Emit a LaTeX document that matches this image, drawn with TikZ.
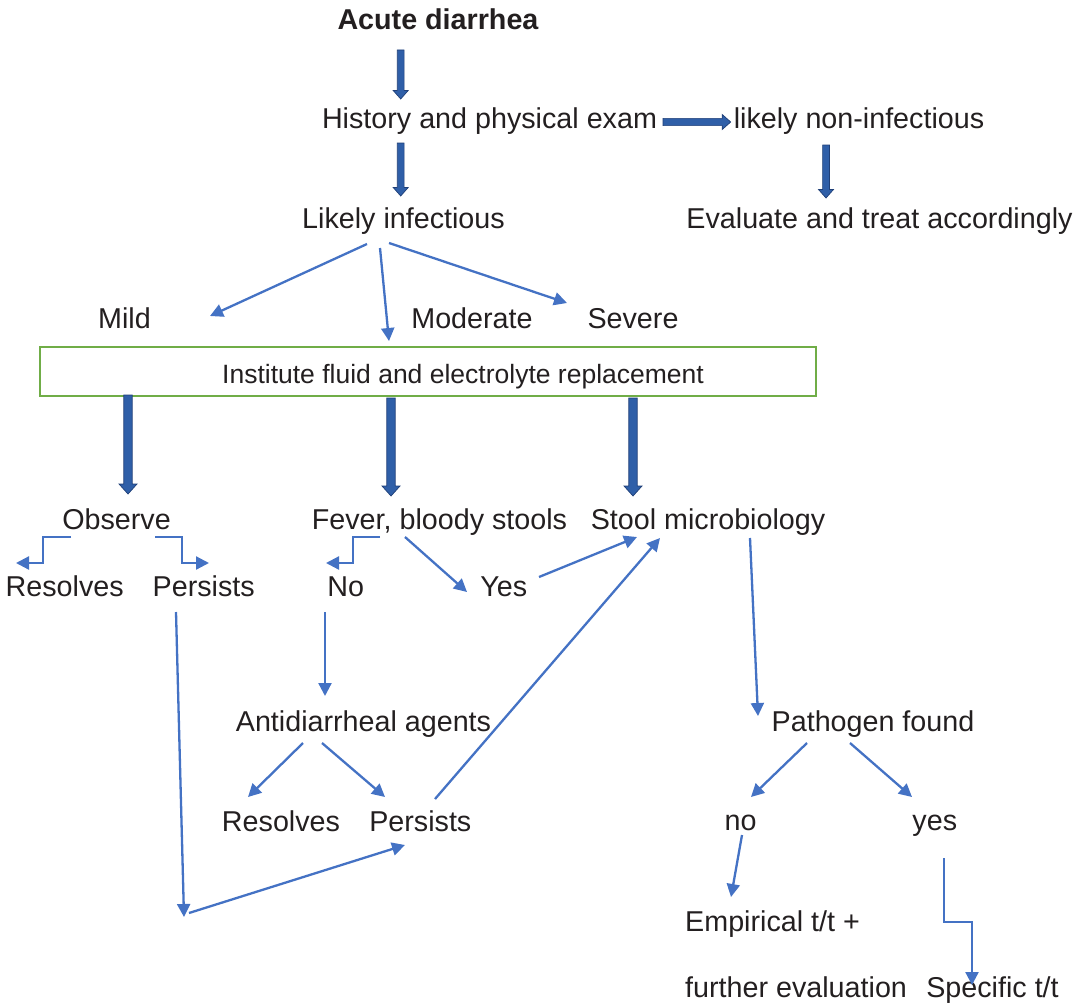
\documentclass[tikz,border=0pt]{standalone}
\usepackage{fontspec}
\setmainfont{Liberation Sans}
\usetikzlibrary{arrows.meta,calc}

\definecolor{ink}{HTML}{231F20}
\definecolor{flow}{HTML}{4472C4}
\definecolor{blockfill}{HTML}{2F5FA8}
\definecolor{blockedge}{HTML}{1F3F77}
\definecolor{boxgreen}{HTML}{70AD47}

% Filled block arrow pointing down: start, end, half shaft, half head, head length
\newcommand\downblock[5]{%
  \path[blockarrow] let \p1=#1, \p2=#2 in
    (\x1-#3pt,\y1) -- (\x1-#3pt,\y2+#5pt) -- (\x1-#4pt,\y2+#5pt) -- (\x1,\y2)
    -- (\x1+#4pt,\y2+#5pt) -- (\x1+#3pt,\y2+#5pt) -- (\x1+#3pt,\y1) -- cycle;}
% Filled block arrow pointing right
\newcommand\rightblock[5]{%
  \path[blockarrow] let \p1=#1, \p2=#2 in
    (\x1,\y1+#3pt) -- (\x2-#5pt,\y1+#3pt) -- (\x2-#5pt,\y1+#4pt) -- (\x2,\y1)
    -- (\x2-#5pt,\y1-#4pt) -- (\x2-#5pt,\y1-#3pt) -- (\x1,\y1-#3pt) -- cycle;}

\begin{document}
\begin{tikzpicture}[x=1pt,y=1pt,
  lbl/.style={font=\fontsize{28.7}{34}\selectfont, text=ink, inner sep=0pt,
              text height=20.5pt, text depth=6pt, anchor=base},
  blockarrow/.style={fill=blockfill, draw=blockedge, line width=0.7pt},
  flowline/.style={draw=flow, line width=2.3pt, -{Triangle[length=13pt,width=13pt]}},
  greenbox/.style={draw=boxgreen, line width=2pt, minimum width=776pt,
              minimum height=49pt, inner sep=0pt, text=ink,
              font=\fontsize{26.5}{30}\selectfont, text height=28pt, text depth=5pt}]

\useasboundingbox (0,0) rectangle (1083,-1006);

% ---- labels ----
\node[lbl, font=\bfseries\fontsize{28.7}{34}\selectfont] (acute) at (438,-29.5) {Acute diarrhea};
\node[lbl] (hist) at (489.5,-128.5) {History and physical exam};
\node[lbl] (noninf) at (859,-128.5) {likely non-infectious};
\node[lbl] (likinf) at (403.5,-228.5) {Likely infectious};
\node[lbl] (evalt) at (879.5,-228.5) {Evaluate and treat accordingly};
\node[lbl] (mild) at (124.5,-328.5) {Mild};
\node[lbl] (moderate) at (472,-328.5) {Moderate};
\node[lbl] (severe) at (633,-328.5) {Severe};
\node[greenbox] (box) at (428,-371.5) {\hspace*{70pt}Institute fluid and electrolyte replacement};
\node[lbl] (observe) at (116.5,-529.5) {Observe};
\node[lbl] (fever) at (439.5,-529.5) {Fever, bloody stools};
\node[lbl] (stool) at (708,-529.5) {Stool microbiology};
\node[lbl] (res1) at (64.7,-596.5) {Resolves};
\node[lbl] (pers1) at (203.7,-596.5) {Persists};
\node[lbl] (no1) at (345.7,-596.5) {No};
\node[lbl] (yes1) at (503.7,-596.5) {Yes};
\node[lbl] (anti) at (363.5,-731.5) {Antidiarrheal agents};
\node[lbl] (res2) at (281,-831.5) {Resolves};
\node[lbl] (pers2) at (420.3,-831.5) {Persists};
\node[lbl] (pathogen) at (873,-731.5) {Pathogen found};
\node[lbl] (no2) at (740.5,-830.5) {no};
\node[lbl] (yes2) at (934.8,-830.5) {yes};
\node[lbl, anchor=base west] (emp) at (685,-931.5) {Empirical t/t +};
\node[lbl, anchor=base west] (further) at (685,-997.5) {further evaluation};
\node[lbl] (spec) at (992.5,-997.5) {Specific t/t};
\coordinate (bend) at (184,-917);

% ---- block arrows ----
\downblock{([shift={(-37.3,-20.5)}]acute.base)}{([shift={(-88.8,29.5)}]hist.base)}{3.4}{7.5}{8.5}
\rightblock{([shift={(173.5,6.5)}]hist.base)}{([shift={(-128.3,6.5)}]noninf.base)}{3.6}{7.5}{8.5}
\downblock{([shift={(-88.8,-14.5)}]hist.base)}{([shift={(-2.8,32.5)}]likinf.base)}{3.4}{7.5}{8.5}
\downblock{([shift={(-33,-16.5)}]noninf.base)}{([shift={(-53.5,30.5)}]evalt.base)}{3.4}{7.5}{8.5}
\downblock{([shift={(-300,-23.5)}]box.center)}{([shift={(11.5,35.5)}]observe.base)}{4.2}{9}{10}
\downblock{([shift={(-37,-26.5)}]box.center)}{([shift={(-48.5,33.5)}]fever.base)}{4.2}{9}{10}
\downblock{([shift={(205,-26.5)}]box.center)}{([shift={(-75,33.5)}]stool.base)}{4.2}{9}{10}

% ---- thin connectors ----
\draw[flowline] ([shift={(-36.5,-15.5)}]likinf.base) -- ([shift={(85.5,12.5)}]mild.base);
\draw[flowline] ([shift={(-23.5,-19.5)}]likinf.base) -- ([shift={(-83,-12.5)}]moderate.base);
\draw[flowline] ([shift={(-14.5,-14.5)}]likinf.base) -- ([shift={(-66,25.5)}]severe.base);

\draw[flowline] ([shift={(-45.5,-7.5)}]observe.base) -- ++(-28,0) |- ([shift={(-48.7,33.5)}]res1.base);
\draw[flowline] ([shift={(38.5,-7.5)}]observe.base) -- ++(27,0) |- ([shift={(5.3,33.5)}]pers1.base);
\draw[flowline] ([shift={(-59.5,-7.5)}]fever.base) -- ++(-27,0) |- ([shift={(-19.7,33.5)}]no1.base);
\draw[flowline] ([shift={(-34.5,-7.5)}]fever.base) -- ([shift={(-36.7,4.5)}]yes1.base);
\draw[flowline] ([shift={(35.3,19.5)}]yes1.base) -- ([shift={(-71,-7.5)}]stool.base);

\draw[flowline] ([shift={(-20.7,-15.5)}]no1.base) -- ([shift={(-38.5,35.5)}]anti.base);
\draw[flowline] ([shift={(-60.5,-11.5)}]anti.base) -- ([shift={(-33,34.5)}]res2.base);
\draw[flowline] ([shift={(-41.5,-11.5)}]anti.base) -- ([shift={(-35.3,34.5)}]pers2.base);
\draw[flowline] ([shift={(14.7,32.5)}]pers2.base) -- ([shift={(-48,-8.5)}]stool.base);

\draw[flowline] ([shift={(-27.7,-15.5)}]pers1.base) -- (bend);
\draw[flowline] ([shift={(5,4)}]bend) -- ([shift={(-15.3,-13.5)}]pers2.base);

\draw[flowline] ([shift={(42,-8.5)}]stool.base) -- ([shift={(-115,15.5)}]pathogen.base);
\draw[flowline] ([shift={(-66,-11.5)}]pathogen.base) -- ([shift={(10.5,33.5)}]no2.base);
\draw[flowline] ([shift={(-23,-11.5)}]pathogen.base) -- ([shift={(-22.8,33.5)}]yes2.base);
\draw[flowline] ([shift={(1.5,-4.5)}]no2.base) -- ([shift={(46,34.5)}]emp.base west);
\draw[flowline] ([shift={(9.2,-27.5)}]yes2.base) -- ++(0,-64) -| ([shift={(-20.5,12.5)}]spec.base);

\end{tikzpicture}
\end{document}
